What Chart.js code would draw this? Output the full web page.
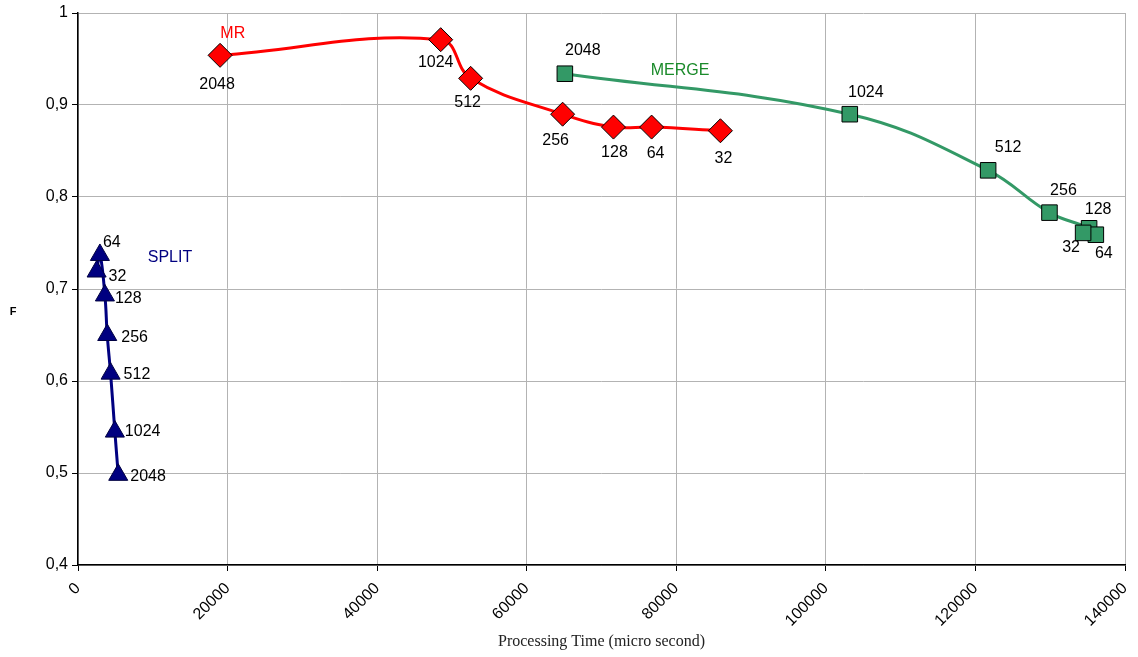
<!DOCTYPE html>
<html>
<head>
<meta charset="utf-8">
<script src="https://cdn.jsdelivr.net/npm/chart.js@4/dist/chart.umd.min.js"></script>
<style>
  html, body { margin: 0; padding: 0; background: #fff; }
  #wrap { width: 1138px; height: 657px; }
</style>
</head>
<body>
<div id="wrap"><canvas id="chart" width="1138" height="657"></canvas></div>
<script>
// MR series
const mrTime = [19000, 48500, 52500, 64800, 71600, 76700, 85900];
const mrF = [0.954, 0.971, 0.929, 0.890, 0.876, 0.876, 0.872];
const mrSizes = ['2048', '1024', '512', '256', '128', '64', '32'];

// MERGE series
const mergeTime = [65100, 103200, 121700, 129900, 135200, 136100, 134400];
const mergeF = [0.934, 0.890, 0.829, 0.783, 0.766, 0.759, 0.761];
const mergeSizes = ['2048', '1024', '512', '256', '128', '64', '32'];

// SPLIT series
const splitTime = [5380, 4930, 4360, 3910, 3600, 2930, 2490];
const splitF = [0.498, 0.545, 0.608, 0.650, 0.693, 0.737, 0.719];
const splitSizes = ['2048', '1024', '512', '256', '128', '64', '32'];

// series name annotations (data coords)
const seriesNames = ['MR', 'MERGE', 'SPLIT'];
const nameTime = [20700, 80500, 12300];
const nameF = [0.978, 0.937, 0.734];

// axis ticks
const xTicks = [0, 20000, 40000, 60000, 80000, 100000, 120000, 140000];
const yTicks = [0.4, 0.5, 0.6, 0.7, 0.8, 0.9, 1];

// label offsets in px (style only)
const mrOffsets = [[-3, 29], [-5, 23], [-3, 24], [-7, 26], [1, 26], [4, 27], [3, 28]];
const mergeOffsets = [[18, -23], [16, -22], [20, -23], [14, -22], [9, -19], [8, 19], [-12, 15]];
const splitOffsets = [[12, 2], [10, 0], [13, 1], [14, 3], [10, 3], [3, -12], [12, 5]];

function toPoints(xs, ys) {
    return xs.map((x, i) => ({ x: x, y: ys[i] }));
}

const pointLabels = {
    id: 'pointLabels',
    afterDatasetsDraw(chart) {
        const ctx = chart.ctx;
        ctx.save();
        ctx.font = '16px "Liberation Sans", Arial, sans-serif';
        ctx.fillStyle = '#000';
        ctx.textBaseline = 'middle';
        chart.data.datasets.forEach((ds, di) => {
            const meta = chart.getDatasetMeta(di);
            meta.data.forEach((pt, i) => {
                const off = ds.labelOffsets[i];
                ctx.textAlign = ds.labelAlign;
                ctx.fillText(ds.sizes[i], pt.x + off[0], pt.y + off[1]);
            });
        });
        // series names
        const colors = ['#ff0000', '#1a8a2a', '#000080'];
        ctx.textAlign = 'center';
        seriesNames.forEach((name, i) => {
            ctx.fillStyle = colors[i];
            ctx.fillText(name, chart.scales.x.getPixelForValue(nameTime[i]),
                chart.scales.y.getPixelForValue(nameF[i]));
        });
        // upright y axis title
        ctx.fillStyle = '#000';
        ctx.font = 'bold 11px "Liberation Sans", Arial, sans-serif';
        ctx.fillText('F', 13, (chart.chartArea.top + chart.chartArea.bottom) / 2 + 23);
        ctx.restore();
    }
};

new Chart(document.getElementById('chart'), {
    type: 'scatter',
    data: {
        datasets: [
            {
                label: 'MR',
                data: toPoints(mrTime, mrF),
                sizes: mrSizes,
                labelOffsets: mrOffsets,
                labelAlign: 'center',
                showLine: true,
                borderColor: '#ff0000',
                borderWidth: 3,
                tension: 0.4,
                pointStyle: 'rectRot',
                pointRadius: 12,
                pointBackgroundColor: '#ff0000',
                pointBorderColor: '#000',
                pointBorderWidth: 1
            },
            {
                label: 'MERGE',
                data: toPoints(mergeTime, mergeF),
                sizes: mergeSizes,
                labelOffsets: mergeOffsets,
                labelAlign: 'center',
                showLine: true,
                borderColor: '#339966',
                borderWidth: 3,
                tension: 0.4,
                pointStyle: 'rect',
                pointRadius: 11,
                pointBackgroundColor: '#339966',
                pointBorderColor: '#000',
                pointBorderWidth: 1
            },
            {
                label: 'SPLIT',
                data: toPoints(splitTime, splitF),
                sizes: splitSizes,
                labelOffsets: splitOffsets,
                labelAlign: 'left',
                showLine: true,
                borderColor: '#000080',
                borderWidth: 3,
                tension: 0.4,
                pointStyle: 'triangle',
                pointRadius: 11,
                pointBackgroundColor: '#000080',
                pointBorderColor: '#000040',
                pointBorderWidth: 1
            }
        ]
    },
    options: {
        responsive: false,
        animation: false,
        layout: { padding: { top: 13, right: 11, left: 0, bottom: 0 } },
        plugins: {
            legend: { display: false },
            tooltip: { enabled: false }
        },
        scales: {
            x: {
                type: 'linear',
                min: 0,
                max: 140000,
                afterBuildTicks: (scale) => { scale.ticks = xTicks.map(v => ({ value: v })); },
                afterFit: (scale) => {
                    scale.height = 92;
                    scale.paddingLeft = 0;
                    scale.paddingRight = 0;
                },
                ticks: {
                    callback: (v) => String(v),
                    maxRotation: 45,
                    minRotation: 45,
                    color: '#000',
                    padding: 8,
                    font: { family: '"Liberation Sans", Arial, sans-serif', size: 16 }
                },
                grid: { color: '#b3b3b3', lineWidth: 1, tickLength: 6, tickColor: '#000' },
                border: { color: '#000', width: 1.5 },
                title: {
                    display: true,
                    text: 'Processing Time (micro second)',
                    color: '#222',
                    font: { family: '"Liberation Serif", "Times New Roman", serif', size: 16 },
                    padding: { top: 0, bottom: 6 }
                }
            },
            y: {
                type: 'linear',
                min: 0.4,
                max: 1,
                afterBuildTicks: (scale) => { scale.ticks = yTicks.map(v => ({ value: v })); },
                afterFit: (scale) => {
                    scale.width = 78;
                    scale.paddingTop = 0;
                    scale.paddingBottom = 0;
                },
                ticks: {
                    callback: (v) => v === 1 ? '1' : v.toFixed(1).replace('.', ','),
                    color: '#000',
                    padding: 4,
                    font: { family: '"Liberation Sans", Arial, sans-serif', size: 16 }
                },
                grid: { color: '#b3b3b3', lineWidth: 1, tickLength: 6, tickColor: '#000' },
                border: { color: '#000', width: 1.5 },
                title: { display: false }
            }
        }
    },
    plugins: [pointLabels]
});
</script>
</body>
</html>
